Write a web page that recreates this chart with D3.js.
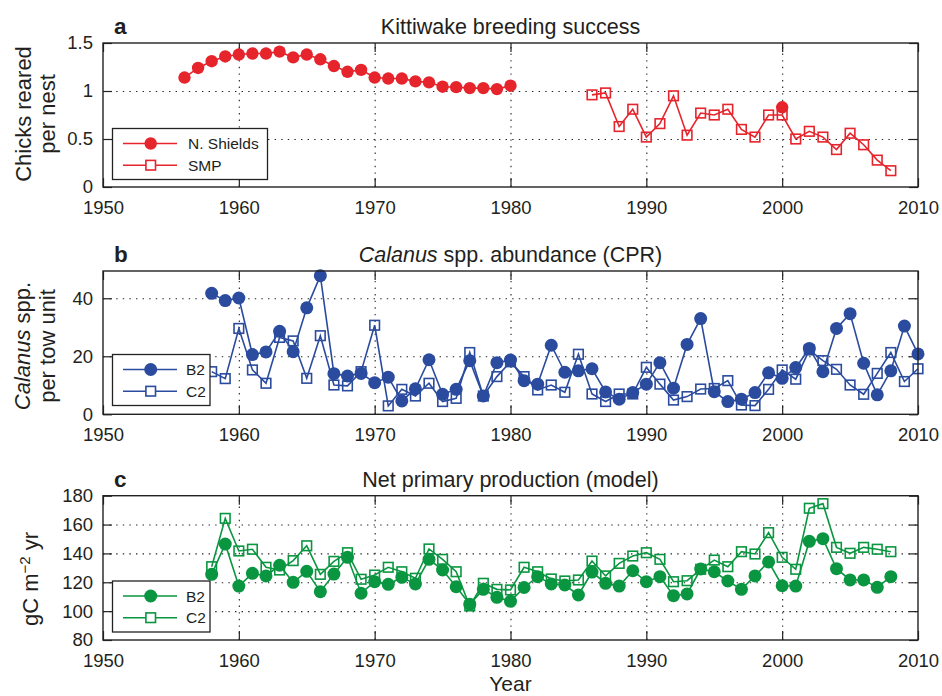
<!DOCTYPE html>
<html><head><meta charset="utf-8">
<script src="https://cdn.jsdelivr.net/npm/d3@7"></script>
<style>
html,body{margin:0;padding:0;background:#fff;}
svg{display:block;font-family:"Liberation Sans",Arial,Helvetica,sans-serif;}
</style></head>
<body>
<svg id="chart" width="942" height="696"></svg>
<script>
// ---------------- DATA ----------------
const xTicks = [1950, 1960, 1970, 1980, 1990, 2000, 2010];

// Panel a: Kittiwake breeding success
const nsYears = [1956,1957,1958,1959,1960,1961,1962,1963,1964,1965,1966,1967,1968,1969,1970,1971,1972,1973,1974,1975,1976,1977,1978,1979,1980,2000];
const nsValues = [1.14,1.24,1.31,1.36,1.38,1.39,1.39,1.41,1.35,1.38,1.33,1.26,1.20,1.22,1.14,1.13,1.13,1.10,1.09,1.045,1.04,1.03,1.03,1.02,1.055,0.83];
const smpYears = [1986,1987,1988,1989,1990,1991,1992,1993,1994,1995,1996,1997,1998,1999,2000,2001,2002,2003,2004,2005,2006,2007,2008];
const smpValues = [0.96,0.98,0.63,0.81,0.52,0.66,0.95,0.54,0.77,0.75,0.81,0.60,0.52,0.75,0.75,0.50,0.58,0.52,0.39,0.56,0.44,0.28,0.17];
const aTicks = [0, 0.5, 1, 1.5];

// Panel b: Calanus abundance
const calYears = [1958,1959,1960,1961,1962,1963,1964,1965,1966,1967,1968,1969,1970,1971,1972,1973,1974,1975,1976,1977,1978,1979,1980,
  1981,1982,1983,1984,1985,1986,1987,1988,1989,1990,1991,1992,1993,1994,1995,1996,1997,1998,1999,2000,2001,2002,2003,2004,2005,2006,2007,2008,2009,2010];
const calB2 = [41.7,39.2,40.1,20.6,21.5,28.6,21.6,36.7,47.8,14.0,13.2,14.1,10.9,12.8,4.6,8.8,18.8,6.9,8.6,18.5,6.3,17.8,18.7,
  11.6,10.4,23.8,14.5,15.0,15.7,7.7,5.2,7.5,10.4,17.8,9.0,24.1,33.0,7.8,4.4,5.2,7.5,14.3,12.4,16.1,22.7,14.7,29.6,34.7,17.6,6.7,15.0,30.4,20.8];
const calC2 = [14.7,12.3,29.6,15.3,10.7,26.5,25.3,12.4,27.1,10.1,9.8,14.7,30.7,2.9,8.6,6.3,10.7,4.4,5.5,21.3,6.3,13.0,18.1,
  13.0,8.4,10.1,7.6,20.7,7.0,4.4,7.0,7.0,16.2,10.4,4.9,6.1,8.7,8.9,11.6,3.2,3.0,8.6,15.3,12.1,22.2,18.5,15.5,10.1,6.9,14.1,21.3,11.3,15.7];
const bTicks = [0, 20, 40];

// Panel c: Net primary production
const nppYears = [1958,1959,1960,1961,1962,1963,1964,1965,1966,1967,1968,1969,1970,1971,1972,1973,1974,1975,1976,1977,1978,1979,1980,
  1981,1982,1983,1984,1985,1986,1987,1988,1989,1990,1991,1992,1993,1994,1995,1996,1997,1998,1999,2000,2001,2002,2003,2004,2005,2006,2007,2008];
const nppB2 = [125.5,146.5,117.4,126.2,124.4,131.8,120.0,127.6,113.5,125.7,137.3,112.4,120.4,118.6,123.4,118.8,135.9,128.5,116.9,104.7,115.1,109.6,106.8,
  116.4,123.9,118.8,118.1,111.2,127.1,119.3,117.4,128.0,120.4,123.9,110.7,111.9,129.2,127.3,120.9,115.1,124.4,134.1,117.6,117.4,148.4,150.2,129.4,121.6,121.6,116.5,123.9];
const nppC2 = [130.8,164.3,141.7,142.9,130.4,128.5,135.0,145.3,125.5,134.5,140.5,122.1,125.0,130.4,127.3,122.8,143.1,135.9,127.3,103.6,119.3,115.1,114.7,
  130.4,127.3,122.3,120.9,121.6,134.7,124.4,133.1,138.2,140.5,135.9,120.4,121.1,129.0,135.4,130.8,141.2,139.6,154.4,137.3,129.0,171.3,174.5,144.2,140.1,144.2,142.9,141.2];
const cTicks = [80, 100, 120, 140, 160, 180];

// ---------------- DRAW ----------------
const RED = "#e6242c", BLUE = "#2a4b9e", GREEN = "#0a9640", INK = "#231f20";
const svg = d3.select("#chart");
const L = 103, R = 918;
const x = d3.scaleLinear().domain([1950, 2010]).range([L, R]);

function runs(years, values) {
  const out = []; let cur = [];
  years.forEach((yr, i) => {
    if (cur.length && yr - cur[cur.length - 1][0] > 1) { out.push(cur); cur = []; }
    cur.push([yr, values[i]]);
  });
  if (cur.length) out.push(cur);
  return out;
}

function panel(cfg) {
  const y = d3.scaleLinear().domain(cfg.domain).range([cfg.bottom, cfg.top]);
  const h = cfg.bottom - cfg.top;
  const g = svg.append("g");
  // grid
  const gx = g.append("g").attr("transform", `translate(0,${cfg.bottom})`)
    .call(d3.axisBottom(x).tickValues(xTicks.slice(1, -1)).tickSize(-h).tickFormat(""));
  const gy = g.append("g").attr("transform", `translate(${L},0)`)
    .call(d3.axisLeft(y).tickValues(cfg.ticks.filter(t => t > cfg.domain[0] && t < cfg.domain[1])).tickSize(-(R - L)).tickFormat(""));
  [gx, gy].forEach(a => {
    a.select(".domain").remove();
    a.selectAll("line").attr("stroke", "#222").attr("stroke-width", 1.1).attr("stroke-dasharray", "1.4,5.2");
  });
  // axes with inward ticks
  const bx = g.append("g").attr("transform", `translate(0,${cfg.bottom})`)
    .call(d3.axisBottom(x).tickValues(xTicks).tickSizeInner(-9).tickSizeOuter(0).tickPadding(14).tickFormat(d3.format("d")));
  const tx = g.append("g").attr("transform", `translate(0,${cfg.top})`)
    .call(d3.axisTop(x).tickValues(xTicks).tickSizeInner(-9).tickSizeOuter(0).tickFormat(""));
  const ly = g.append("g").attr("transform", `translate(${L},0)`)
    .call(d3.axisLeft(y).tickValues(cfg.ticks).tickSizeInner(-9).tickSizeOuter(0).tickPadding(10).tickFormat(cfg.fmt));
  const ry = g.append("g").attr("transform", `translate(${R},0)`)
    .call(d3.axisRight(y).tickValues(cfg.ticks).tickSizeInner(-9).tickSizeOuter(0).tickFormat(""));
  [bx, tx, ly, ry].forEach(a => {
    a.select(".domain").remove();
    a.selectAll("line").attr("stroke", "#222").attr("stroke-width", 1.2);
    a.selectAll("text").attr("fill", INK).attr("font-size", 18.5).attr("font-family", null);
  });
  // series
  const line = d3.line().x(d => x(d[0])).y(d => y(d[1]));
  cfg.series.forEach(s => {
    runs(s.years, s.values).forEach(r => {
      g.append("path").attr("d", line(r)).attr("fill", "none").attr("stroke", cfg.color).attr("stroke-width", 1.6);
    });
    const pts = s.years.map((yr, i) => [yr, s.values[i]]);
    if (s.marker === "circle") {
      g.selectAll(null).data(pts).enter().append("circle")
        .attr("cx", d => x(d[0])).attr("cy", d => y(d[1])).attr("r", cfg.r).attr("fill", cfg.color);
    } else {
      g.selectAll(null).data(pts).enter().append("rect")
        .attr("x", d => x(d[0]) - 4.8).attr("y", d => y(d[1]) - 4.8).attr("width", 9.6).attr("height", 9.6)
        .attr("fill", "none").attr("stroke", cfg.color).attr("stroke-width", 1.6);
    }
  });
  // frame
  g.append("rect").attr("x", L).attr("y", cfg.top).attr("width", R - L).attr("height", h)
    .attr("fill", "none").attr("stroke", "#222").attr("stroke-width", 1.4);
  // legend
  const lg = g.append("g");
  lg.append("rect").attr("x", 112.5).attr("y", cfg.leg.y).attr("width", cfg.leg.w).attr("height", 51)
    .attr("fill", "#fff").attr("stroke", "#222").attr("stroke-width", 1.3);
  cfg.series.forEach((s, i) => {
    const ly0 = cfg.leg.y + 15 + i * 21.7;
    lg.append("line").attr("x1", 123).attr("x2", 177).attr("y1", ly0).attr("y2", ly0)
      .attr("stroke", cfg.color).attr("stroke-width", 1.6);
    if (s.marker === "circle") lg.append("circle").attr("cx", 150.7).attr("cy", ly0).attr("r", cfg.r).attr("fill", cfg.color);
    else lg.append("rect").attr("x", 150.7 - 4.8).attr("y", ly0 - 4.8).attr("width", 9.6).attr("height", 9.6)
      .attr("fill", "#fff").attr("stroke", cfg.color).attr("stroke-width", 1.6);
    lg.append("text").attr("x", cfg.leg.tx).attr("y", ly0).attr("dy", "0.36em").attr("font-size", 15.5)
      .attr("fill", INK).text(s.name);
  });
  // panel letter & title
  g.append("text").attr("x", 114).attr("y", cfg.top - 9).attr("font-size", 22.5).attr("font-weight", "bold")
    .attr("fill", INK).text(cfg.letter);
  const t = g.append("text").attr("x", (L + R) / 2).attr("y", cfg.top - 9).attr("text-anchor", "middle")
    .attr("font-size", 21.5).attr("fill", INK);
  cfg.title(t);
  // y label
  const yl = g.append("text").attr("transform", `translate(0,${cfg.ylabCenter}) rotate(-90)`)
    .attr("text-anchor", "middle").attr("font-size", 22).attr("fill", INK);
  cfg.ylabel(yl);
}

panel({
  top: 43, bottom: 187, domain: [0, 1.5], ticks: aTicks, fmt: d3.format("~g"), color: RED, r: 6.2,
  series: [
    { name: "N. Shields", years: nsYears, values: nsValues, marker: "circle" },
    { name: "SMP", years: smpYears, values: smpValues, marker: "square" }
  ],
  leg: { y: 128.5, w: 155, tx: 188 },
  letter: "a",
  title: t => t.text("Kittiwake breeding success"),
  ylabCenter: 114,
  ylabel: t => {
    t.append("tspan").attr("x", 0).attr("y", 31).text("Chicks reared");
    t.append("tspan").attr("x", 0).attr("y", 55).text("per nest");
  }
});

panel({
  top: 271, bottom: 414.3, domain: [0, 49.4], ticks: bTicks, fmt: d3.format("d"), color: BLUE, r: 6.5,
  series: [
    { name: "B2", years: calYears, values: calB2, marker: "circle" },
    { name: "C2", years: calYears, values: calC2, marker: "square" }
  ],
  leg: { y: 354.5, w: 97.5, tx: 186 },
  letter: "b",
  title: t => {
    t.append("tspan").attr("font-style", "italic").text("Calanus");
    t.append("tspan").text(" spp. abundance (CPR)");
  },
  ylabCenter: 346,
  ylabel: t => {
    const a = t.append("tspan").attr("x", 0).attr("y", 30);
    a.append("tspan").attr("font-style", "italic").text("Calanus");
    a.append("tspan").text(" spp.");
    t.append("tspan").attr("x", 0).attr("y", 55).text("per tow unit");
  }
});

panel({
  top: 495.7, bottom: 640, domain: [80, 180], ticks: cTicks, fmt: d3.format("d"), color: GREEN, r: 6.5,
  series: [
    { name: "B2", years: nppYears, values: nppB2, marker: "circle" },
    { name: "C2", years: nppYears, values: nppC2, marker: "square" }
  ],
  leg: { y: 581, w: 97.5, tx: 186 },
  letter: "c",
  title: t => t.text("Net primary production (model)"),
  ylabCenter: 579,
  ylabel: t => {
    t.attr("y", 38);
    t.append("tspan").text("gC m");
    t.append("tspan").attr("dy", -8).attr("font-size", 15).text("\u22122");
    t.append("tspan").attr("dy", 8).text(" yr");
  }
});

svg.append("text").attr("x", (L + R) / 2).attr("y", 691).attr("text-anchor", "middle")
  .attr("font-size", 21).attr("fill", INK).text("Year");
</script>
</body></html>
